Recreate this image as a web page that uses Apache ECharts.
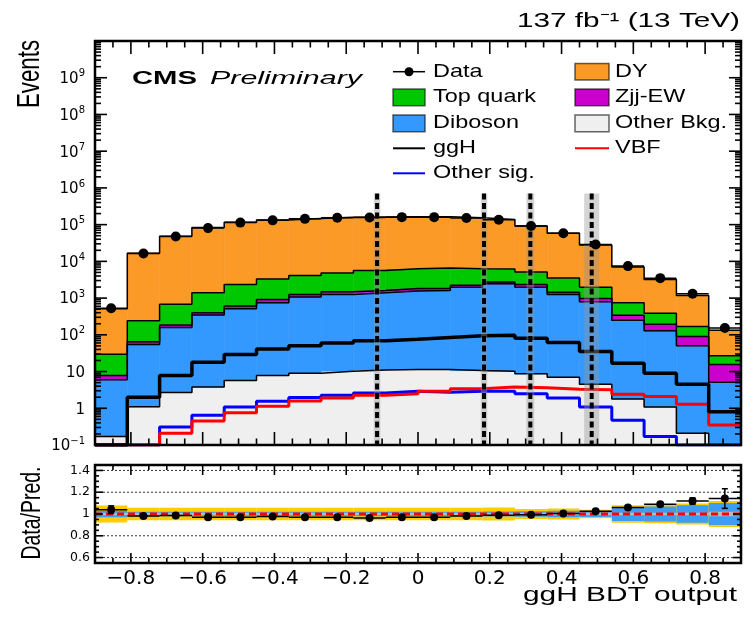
<!DOCTYPE html>
<html><head><meta charset="utf-8">
<script src="https://cdn.jsdelivr.net/npm/echarts@6/dist/echarts.min.js"></script>
<style>html,body{margin:0;padding:0;background:#fff}#c{width:753px;height:620px}</style>
</head><body><div id="c"></div>
<script>
// ---------------- data ----------------
const binEdges = [-0.9,-0.81,-0.72,-0.63,-0.54,-0.45,-0.36,-0.27,-0.18,-0.09,0,0.09,0.18,0.27,0.36,0.45,0.54,0.63,0.72,0.81,0.9];
const otherBkg = [0.17,1.1,2.7,3.8,5.7,7.8,9.0,10.2,11.1,11.3,11.3,10.6,10.2,8.7,7.0,4.5,1.8,1.08,0.21,0.05];
const diboson  = [5.8,53,155,343,509,737,1061,1250,1379,1539,1609,1969,2430,1971,1253,785,248,127,50,5.05];
const zjjEW    = [1.8,11,28,53,95,170,190,220,230,270,200,260,320,360,190,190,90,67,40,10.4];
const topQuark = [22,175,490,990,1730,2415,2840,3320,3980,4480,4780,4060,3440,2760,2090,1000,405,190,77,11.5];
const dyBkg    = [480,16360,47300,81600,114700,130700,143900,153200,156400,158700,158400,148700,131800,86900,54460,26000,6255,2815,1013,107];
const dataCounts = [530,16300,47300,80500,113500,130800,143600,153300,156200,160000,160000,152200,136300,91400,58200,28700,7420,3490,1320,153];
const ggHSig   = [0.1,2.0,7.8,17.8,29,41,50,60,69,76,85,94,98,81,62,35,16.7,9.0,4.5,0.8];
const vbfSig   = [0.1,0.1,0.21,0.45,0.76,1.13,1.58,1.9,2.25,2.5,2.9,3.4,3.8,3.6,3.3,3.2,2.4,2.1,1.28,0.35];
const otherSig = [0.1,0.1,0.31,0.65,1.08,1.55,1.95,2.25,2.6,2.9,2.75,2.9,2.9,2.5,1.9,1.08,0.47,0.17,0.1,0.1];
const cutCenters    = [-0.114,0.184,0.313,0.484];
const cutHalfWidths = [0.009,0.009,0.011,0.021];
const cutLineTop = 7e5;
const ratioErr  = [0.035,0.008,0.005,0.004,0.003,0.003,0.003,0.003,0.003,0.003,0.003,0.003,0.003,0.004,0.005,0.007,0.013,0.018,0.03,0.09];
const bandTotal = [0.079,0.058,0.058,0.058,0.058,0.058,0.058,0.058,0.058,0.058,0.058,0.058,0.06,0.045,0.05,0.04,0.08,0.085,0.097,0.12];
const bandBkg   = [0.03,0.02,0.02,0.02,0.02,0.02,0.02,0.02,0.02,0.02,0.02,0.02,0.022,0.025,0.03,0.028,0.065,0.068,0.08,0.10];
const bandStat  = [0.012,0.012,0.012,0.012,0.012,0.012,0.012,0.012,0.012,0.012,0.012,0.012,0.012,0.012,0.012,0.012,0.012,0.012,0.012,0.02];
const yMainTickBase = ['10','1','10','10','10','10','10','10','10','10','10'];
const yMainTickExp  = ['−1','','','2','3','4','5','6','7','8','9'];
const xTickValues = [-0.8,-0.6,-0.4,-0.2,0,0.2,0.4,0.6,0.8];
const xTickLabels = ['−0.8','−0.6','−0.4','−0.2','0','0.2','0.4','0.6','0.8'];
const ratioTickValues = [0.6,0.8,1,1.2,1.4];
const ratioTickLabels = ['0.6','0.8','1','1.2','1.4'];

// ---------------- helpers ----------------
const nb = binEdges.length - 1;
const FLOOR = 1e-3;
const chart = echarts.init(document.getElementById('c'), null, {renderer:'canvas', width:753, height:620});
function ln(x1,y1,x2,y2,w,c,dash){return {type:'line',shape:{x1,y1,x2,y2},style:{stroke:c||'#000',lineWidth:w||1.6,lineDash:dash||null}};}
function csRect(cs){return {x:cs.x,y:cs.y,width:cs.width,height:cs.height};}

const layers = [
  {name:'Other Bkg.', vals:otherBkg, color:'#efefef'},
  {name:'Diboson',    vals:diboson,  color:'#3399ff'},
  {name:'Zjj-EW',     vals:zjjEW,    color:'#cc00cc'},
  {name:'Top quark',  vals:topQuark, color:'#00c800'},
  {name:'DY',         vals:dyBkg,    color:'#fb9a26'}
];
const series = [];
let cum = new Array(nb).fill(0);
const tops = [];
layers.forEach(L => {
  const lo = cum.slice();
  cum = cum.map((c,i)=>c+L.vals[i]);
  const hi = cum.slice();
  tops.push(hi);
  series.push({
    type:'custom', name:L.name, xAxisIndex:0, yAxisIndex:0, z:2, silent:true,
    data: hi.map((h,i)=>[binEdges[i], binEdges[i+1], Math.max(lo[i],FLOOR), h]),
    encode:{x:[0,1], y:[2,3]},
    renderItem:(params, api)=>{
      const a = api.coord([api.value(0), api.value(3)]);
      const b = api.coord([api.value(1), api.value(2)]);
      const r = echarts.graphic.clipRectByRect({x:a[0],y:a[1],width:b[0]-a[0],height:b[1]-a[1]}, csRect(params.coordSys));
      return r ? {type:'rect', shape:r, style:{fill:L.color, stroke:L.color, lineWidth:0.6}} : null;
    }
  });
});
const total = cum;
function stepLine(vals, color, width, z, name){
  const d = vals.map((v,i)=>[binEdges[i], v]);
  d.push([binEdges[nb], vals[nb-1]]);
  return {type:'line', name, xAxisIndex:0, yAxisIndex:0, data:d, step:'end', symbol:'none',
    lineStyle:{color, width}, z, clip:true, silent:true};
}
tops.forEach(hi => series.push(stepLine(hi, '#000', 1.5, 3)));
series.push(stepLine(otherSig, '#0000ff', 3, 4, 'Other sig.'));
series.push(stepLine(vbfSig, '#ff0000', 3, 4, 'VBF'));
series.push(stepLine(ggHSig, '#000000', 3.5, 4, 'ggH'));

// category boundaries (dashed lines with grey bands)
series.push({
  type:'custom', name:'cuts', xAxisIndex:0, yAxisIndex:0, z:5, silent:true,
  data: cutCenters.map((c,i)=>[c, cutHalfWidths[i], 1]),
  encode:{x:0, y:2},
  renderItem:(params, api)=>{
    const c = api.value(0), hw = api.value(1);
    const tl = api.coord([c-hw, cutLineTop]), br = api.coord([c+hw, 0.1]);
    const t = api.coord([c, cutLineTop]), b = api.coord([c, 0.1]);
    return {type:'group', children:[
      {type:'rect', shape:{x:tl[0], y:tl[1], width:br[0]-tl[0], height:br[1]-tl[1]}, style:{fill:'rgba(150,150,150,0.4)'}},
      ln(t[0], t[1], b[0], b[1], 4, '#000', [6,3.5])
    ]};
  }
});

// data points (main panel)
series.push({
  type:'custom', name:'Data', xAxisIndex:0, yAxisIndex:0, z:6, silent:true,
  data: dataCounts.map((v,i)=>[binEdges[i], binEdges[i+1], v]),
  encode:{x:[0,1], y:2},
  renderItem:(params, api)=>{
    const a = api.coord([api.value(0), api.value(2)]);
    const b = api.coord([api.value(1), api.value(2)]);
    return {type:'group', children:[
      ln(a[0], a[1], b[0], b[1], 1.5),
      {type:'circle', shape:{cx:(a[0]+b[0])/2, cy:a[1], r:5}, style:{fill:'#000'}}
    ]};
  }
});

// main frame with ROOT-like ticks
series.push({
  type:'custom', name:'frameMain', xAxisIndex:0, yAxisIndex:0, z:20, silent:true,
  data:[[0,1]], encode:{x:0,y:1},
  renderItem:(params, api)=>{
    const cs = params.coordSys, L = cs.x, T = cs.y, R = cs.x+cs.width, B = cs.y+cs.height;
    const ch = [];
    for (let k=-17;k<=17;k++){
      const x = api.coord([k*0.05, 1])[0];
      const len = (k%4===0)?13:6.5;
      ch.push(ln(x,B,x,B-len)); ch.push(ln(x,T,x,T+len));
    }
    for (let e=-1;e<=9;e++){
      for (let m=1;m<=9;m++){
        if (e===-1 && m===1) continue;
        const y = api.coord([0, m*Math.pow(10,e)])[1];
        const len = (m===1)?12:6;
        ch.push(ln(L,y,L+len,y)); ch.push(ln(R,y,R-len,y));
      }
    }
    ch.push({type:'rect', shape:{x:L,y:T,width:R-L,height:B-T}, style:{fill:null, stroke:'#000', lineWidth:2.5}});
    return {type:'group', children:ch};
  }
});

// ---------------- ratio panel ----------------
series.push({
  type:'custom', name:'bands', xAxisIndex:1, yAxisIndex:1, z:2, silent:true,
  data: total.map((t,i)=>[binEdges[i], binEdges[i+1], bandTotal[i], bandBkg[i], bandStat[i]]),
  encode:{x:[0,1], y:2},
  renderItem:(params, api)=>{
    const x0 = api.value(0), x1 = api.value(1);
    const out = [];
    [[api.value(2),'#ffcc00'],[api.value(3),'#3d9df2'],[api.value(4),'#b9b9b9']].forEach(([h,c])=>{
      const a = api.coord([x0, 1+h]), b = api.coord([x1, 1-h]);
      out.push({type:'rect', shape:{x:a[0], y:a[1], width:b[0]-a[0], height:b[1]-a[1]}, style:{fill:c}});
    });
    return {type:'group', children:out};
  }
});
series.push({
  type:'custom', name:'refLines', xAxisIndex:1, yAxisIndex:1, z:3, silent:true,
  data:[[0,1]], encode:{x:0,y:1},
  renderItem:(params, api)=>{
    const cs = params.coordSys, L = cs.x, R = cs.x+cs.width;
    const ch = [];
    ratioTickValues.forEach(v=>{
      if (v===1) return;
      const y = api.coord([0, v])[1];
      ch.push(ln(L,y,R,y,1,'#333',[2,2]));
    });
    const y1 = api.coord([0,1])[1];
    ch.push(ln(L,y1,R,y1,3,'#ff0000',[7,4]));
    return {type:'group', children:ch};
  }
});
series.push({
  type:'custom', name:'ratio', xAxisIndex:1, yAxisIndex:1, z:6, silent:true,
  data: dataCounts.map((d,i)=>[binEdges[i], binEdges[i+1], d/total[i], ratioErr[i]]),
  encode:{x:[0,1], y:2},
  renderItem:(params, api)=>{
    const x0 = api.value(0), x1 = api.value(1), r = api.value(2), e = api.value(3);
    const a = api.coord([x0, r]), b = api.coord([x1, r]);
    const cx = (a[0]+b[0])/2;
    const up = api.coord([0, r+e])[1], dn = api.coord([0, r-e])[1];
    const ch = [ln(a[0],a[1],b[0],b[1],1.5), ln(cx,up,cx,dn,1.5)];
    if (e > 0.02) { ch.push(ln(cx-3,up,cx+3,up,1.5)); ch.push(ln(cx-3,dn,cx+3,dn,1.5)); }
    ch.push({type:'circle', shape:{cx, cy:a[1], r:4}, style:{fill:'#000'}});
    return {type:'group', children:ch};
  }
});
series.push({
  type:'custom', name:'frameRatio', xAxisIndex:1, yAxisIndex:1, z:20, silent:true,
  data:[[0,1]], encode:{x:0,y:1},
  renderItem:(params, api)=>{
    const cs = params.coordSys, L = cs.x, T = cs.y, R = cs.x+cs.width, B = cs.y+cs.height;
    const ch = [];
    for (let k=-17;k<=17;k++){
      const x = api.coord([k*0.05, 1])[0];
      const len = (k%4===0)?10:5;
      ch.push(ln(x,B,x,B-len)); ch.push(ln(x,T,x,T+len));
    }
    for (let k=12;k<=28;k++){
      const y = api.coord([0, k*0.05])[1];
      const len = (k%4===0)?8:4;
      ch.push(ln(L,y,L+len,y)); ch.push(ln(R,y,R-len,y));
    }
    ch.push({type:'rect', shape:{x:L,y:T,width:R-L,height:B-T}, style:{fill:null, stroke:'#000', lineWidth:2.5}});
    return {type:'group', children:ch};
  }
});

// ---------------- texts (graphic) ----------------
const mctx = document.createElement('canvas').getContext('2d');
function measure(text, font){ mctx.font = font; return mctx.measureText(text).width; }
const FAM = '"Liberation Sans", Arial, sans-serif';
function fontOf(o){ return `${o.italic?'italic ':''}${o.bold?'bold ':''}${o.size}px ${FAM}`; }
function txt(text, o){
  const font = fontOf(o);
  const s = o.width ? o.width/measure(text, font) : (o.scale||1);
  const al = o.align||'left';
  return {type:'text', x:o.x, y:o.y, rotation:o.rot||0, scaleX:s, scaleY:o.scaleY||1, z:100, silent:true,
    style:{text, font, fill:'#000', align:al, textAlign:al, verticalAlign:'middle', textVerticalAlign:'middle'}};
}
const graphics = [];
graphics.push(txt('137 fb⁻¹ (13 TeV)', {x:740, y:21, size:21, width:223, align:'right'}));
graphics.push(txt('CMS', {x:132, y:78.5, size:19, bold:true, width:65}));
graphics.push(txt('Preliminary', {x:210, y:78.5, size:19, italic:true, width:152}));
graphics.push(txt('ggH BDT output', {x:737, y:595, size:20, width:214, align:'right'}));
graphics.push(txt('Events', {x:31, y:74, size:22, width:68, align:'center', rot:Math.PI/2, scaleY:1.4}));
graphics.push(txt('Data/Pred.', {x:32, y:513, size:19.5, width:93, align:'center', rot:Math.PI/2, scaleY:1.4}));

// legend
const legendRows = [71.7, 97.3, 123.3, 148.3, 173.3];
const legendCols = [{sx:393, sw:32, tx:433}, {sx:575, sw:34, tx:615}];
const legendItems = [
  {label:'Data', kind:'data', row:0, col:0},
  {label:'DY', kind:'box', color:'#fb9a26', row:0, col:1},
  {label:'Top quark', kind:'box', color:'#00c800', row:1, col:0},
  {label:'Zjj-EW', kind:'box', color:'#cc00cc', row:1, col:1},
  {label:'Diboson', kind:'box', color:'#3399ff', row:2, col:0},
  {label:'Other Bkg.', kind:'box', color:'#efefef', row:2, col:1},
  {label:'ggH', kind:'line', color:'#000000', row:3, col:0},
  {label:'VBF', kind:'line', color:'#ff0000', row:3, col:1},
  {label:'Other sig.', kind:'line', color:'#0000ff', row:4, col:0}
];
const legSize = 18.5;
const legScale = 103 / measure('Top quark', fontOf({size:legSize}));
legendItems.forEach(it=>{
  const y = legendRows[it.row], c = legendCols[it.col];
  if (it.kind==='box') {
    graphics.push({type:'rect', z:100, silent:true, shape:{x:c.sx, y:y-8.3, width:c.sw, height:16.7},
      style:{fill:it.color, stroke:'rgba(0,0,0,0.6)', lineWidth:1.5}});
  } else if (it.kind==='line') {
    graphics.push({type:'line', z:100, silent:true, shape:{x1:c.sx, y1:y, x2:c.sx+c.sw, y2:y}, style:{stroke:it.color, lineWidth:2}});
  } else {
    graphics.push({type:'line', z:100, silent:true, shape:{x1:c.sx, y1:y, x2:c.sx+c.sw, y2:y}, style:{stroke:'#000', lineWidth:1.5}});
    graphics.push({type:'circle', z:100, silent:true, shape:{cx:c.sx+c.sw/2, cy:y, r:4.5}, style:{fill:'#000'}});
  }
  graphics.push(txt(it.label, {x:c.tx, y:y, size:legSize, scale:legScale}));
});

function matchLabel(v, vals, labels){
  for (let i=0;i<vals.length;i++) if (Math.abs(v-vals[i])<1e-6) return labels[i];
  return '';
}
const hidden = {axisLine:{show:false}, axisTick:{show:false}, splitLine:{show:false}, minorTick:{show:false}};

chart.setOption({
  animation:false,
  backgroundColor:'#ffffff',
  grid:[
    {left:95, top:41, width:646, height:404, containLabel:false, outerBoundsMode:'none'},
    {left:95, top:465, width:646, height:98, containLabel:false, outerBoundsMode:'none'}
  ],
  xAxis:[
    Object.assign({type:'value', gridIndex:0, min:-0.9, max:0.9, interval:0.05, axisLabel:{show:false}}, hidden),
    Object.assign({type:'value', gridIndex:1, min:-0.9, max:0.9, interval:0.05,
      axisLabel:{show:true, margin:6, fontSize:20, fontFamily:'DejaVu Sans', color:'#000',
        formatter:v=>matchLabel(v, xTickValues, xTickLabels)}}, hidden)
  ],
  yAxis:[
    Object.assign({type:'log', logBase:10, gridIndex:0, min:0.1, max:1e10, interval:1,
      axisLabel:{show:true, margin:10, color:'#000',
        formatter:v=>{
          const i = Math.round(Math.log10(v)) + 1;
          if (i < 0 || i >= yMainTickBase.length) return '';
          return yMainTickExp[i] ? `{m|${yMainTickBase[i]}}{s|${yMainTickExp[i]}}` : `{m|${yMainTickBase[i]}}`;
        },
        rich:{
          m:{fontSize:15, fontFamily:'DejaVu Sans', color:'#000', verticalAlign:'bottom', lineHeight:18},
          s:{fontSize:10, fontFamily:'DejaVu Sans', color:'#000', verticalAlign:'top', lineHeight:12}
        }}}, hidden),
    Object.assign({type:'value', gridIndex:1, min:0.55, max:1.45, interval:0.05,
      axisLabel:{show:true, margin:5, fontSize:12.5, fontFamily:'DejaVu Sans', color:'#000',
        formatter:v=>matchLabel(v, ratioTickValues, ratioTickLabels)}}, hidden)
  ],
  graphic: graphics,
  series: series
});
</script></body></html>
